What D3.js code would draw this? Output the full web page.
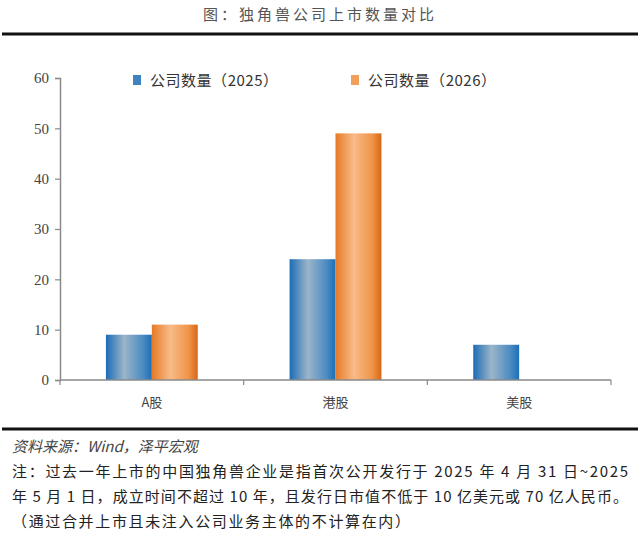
<!DOCTYPE html>
<html>
<head>
<meta charset="utf-8">
<script src="https://cdn.jsdelivr.net/npm/d3@7"></script>
<style>
  body { margin: 0; background: #fff; }
  svg { display: block; }
</style>
</head>
<body>
<svg width="640" height="541"></svg>
<script>
// chart data
var categories = ["A股", "港股", "美股"];
var seriesNames = ["公司数量（2025）", "公司数量（2026）"];
var values2025 = [9, 24, 7];
var values2026 = [11, 49, null];
var yTicks = [0, 10, 20, 30, 40, 50, 60];

var title = "图：独角兽公司上市数量对比";
var source = "资料来源：Wind，泽平宏观";
var notes = [
  "注：过去一年上市的中国独角兽企业是指首次公开发行于 2025 年 4 月 31 日~2025",
  "年 5 月 1 日，成立时间不超过 10 年，且发行日市值不低于 10 亿美元或 70 亿人民币。",
  "（通过合并上市且未注入公司业务主体的不计算在内）"
];

var cjk = "'Noto Sans CJK SC', 'Noto Sans', sans-serif";
var serif = "'Liberation Serif', 'DejaVu Serif', serif";
var axisColor = "#8a8a8a";

var svg = d3.select("svg"),
    width = +svg.attr("width"),
    height = +svg.attr("height");

// gradients for the cylinder-ish bars
var defs = svg.append("defs");
function grad(id, stops) {
  var g = defs.append("linearGradient").attr("id", id)
      .attr("x1", "0%").attr("x2", "100%").attr("y1", "0%").attr("y2", "0%");
  stops.forEach(function(s) {
    g.append("stop").attr("offset", s[0]).attr("stop-color", s[1]);
  });
}
grad("g2025", [["0%", "#1c6cb6"], ["40%", "#9bb5c9"], ["80%", "#4d8cc2"], ["100%", "#1d6fb8"]]);
grad("g2026", [["0%", "#e67a26"], ["40%", "#f8bb88"], ["80%", "#ef9448"], ["100%", "#d96716"]]);
var fills = ["url(#g2025)", "url(#g2026)"];
var legendColors = ["#3f82bd", "#f0a05a"];

// title and rules
svg.append("text")
    .attr("x", width / 2).attr("y", 20)
    .attr("text-anchor", "middle")
    .attr("font-family", cjk).attr("font-size", 15)
    .attr("letter-spacing", 3)
    .attr("fill", "#555")
    .text(title);

svg.append("line").attr("x1", 2).attr("x2", 638).attr("y1", 34).attr("y2", 34)
    .attr("stroke", "#111").attr("stroke-width", 3);
svg.append("line").attr("x1", 2).attr("x2", 638).attr("y1", 429).attr("y2", 429)
    .attr("stroke", "#111").attr("stroke-width", 3);

// scales
var x = d3.scaleBand().domain(categories).range([60, 611]).paddingInner(0).paddingOuter(0);
var y = d3.scaleLinear().domain([0, 60]).range([380, 78]);
var groupW = x.bandwidth() * 0.5;
var x1 = d3.scaleBand().domain([0, 1]).range([0, groupW]);

// bars
var series = [values2025, values2026];
var g = svg.append("g");
series.forEach(function(vals, si) {
  g.selectAll(".bar" + si)
    .data(categories.map(function(c, i) { return {c: c, v: vals[i]}; })
      .filter(function(d) { return d.v != null; }))
    .enter().append("rect")
    .attr("x", function(d) { return x(d.c) + (x.bandwidth() - groupW) / 2 + x1(si); })
    .attr("y", function(d) { return y(d.v); })
    .attr("width", x1.bandwidth())
    .attr("height", function(d) { return y(0) - y(d.v); })
    .attr("fill", fills[si]);
});

// y axis
var yAxis = svg.append("g")
    .attr("transform", "translate(60,0)")
    .call(d3.axisLeft(y).tickValues(yTicks).tickSize(5).tickPadding(6));
yAxis.attr("font-family", serif);
yAxis.select(".domain").attr("stroke", axisColor).attr("stroke-width", 1.5);
yAxis.selectAll(".tick line").attr("stroke", axisColor).attr("stroke-width", 1.2);
yAxis.selectAll(".tick text")
    .attr("font-family", serif).attr("font-size", 15).attr("fill", "#444");

// x axis with ticks at band edges
var xAxis = svg.append("g").attr("transform", "translate(0,380)");
xAxis.append("line").attr("x1", 60).attr("x2", x.range()[1])
    .attr("stroke", axisColor).attr("stroke-width", 1.5);
var edges = categories.map(function(c) { return x(c); }).concat([x.range()[1]]);
xAxis.selectAll(".edge").data(edges).enter().append("line")
    .attr("x1", function(d) { return d; }).attr("x2", function(d) { return d; })
    .attr("y1", 0).attr("y2", 5)
    .attr("stroke", axisColor).attr("stroke-width", 1.2);
xAxis.selectAll(".cat").data(categories).enter().append("text")
    .attr("x", function(d) { return x(d) + x.bandwidth() / 2; })
    .attr("y", 27)
    .attr("text-anchor", "middle")
    .attr("font-family", cjk).attr("font-size", 13).attr("fill", "#444")
    .text(function(d) { return d; });

// legend
var legendX = [133, 351];
seriesNames.forEach(function(name, i) {
  svg.append("rect").attr("x", legendX[i]).attr("y", 75)
      .attr("width", 8).attr("height", 10).attr("fill", legendColors[i]);
  svg.append("text").attr("x", legendX[i] + 17).attr("y", 86)
      .attr("font-family", cjk).attr("font-size", 15).attr("fill", "#333")
      .attr("textLength", 128).attr("lengthAdjust", "spacing")
      .text(name);
});

// source and notes
svg.append("text").attr("x", 12).attr("y", 452)
    .attr("font-family", cjk).attr("font-size", 15).attr("font-style", "italic")
    .attr("fill", "#444").text(source);

var noteLen = [616, 616, 398];
notes.forEach(function(t, i) {
  var el = svg.append("text").attr("x", 12).attr("y", 477 + i * 25)
      .attr("font-family", cjk).attr("font-size", 15).attr("fill", "#222")
      .text(t);
  if (noteLen[i]) el.attr("textLength", noteLen[i]).attr("lengthAdjust", "spacing");
});
</script>
</body>
</html>
